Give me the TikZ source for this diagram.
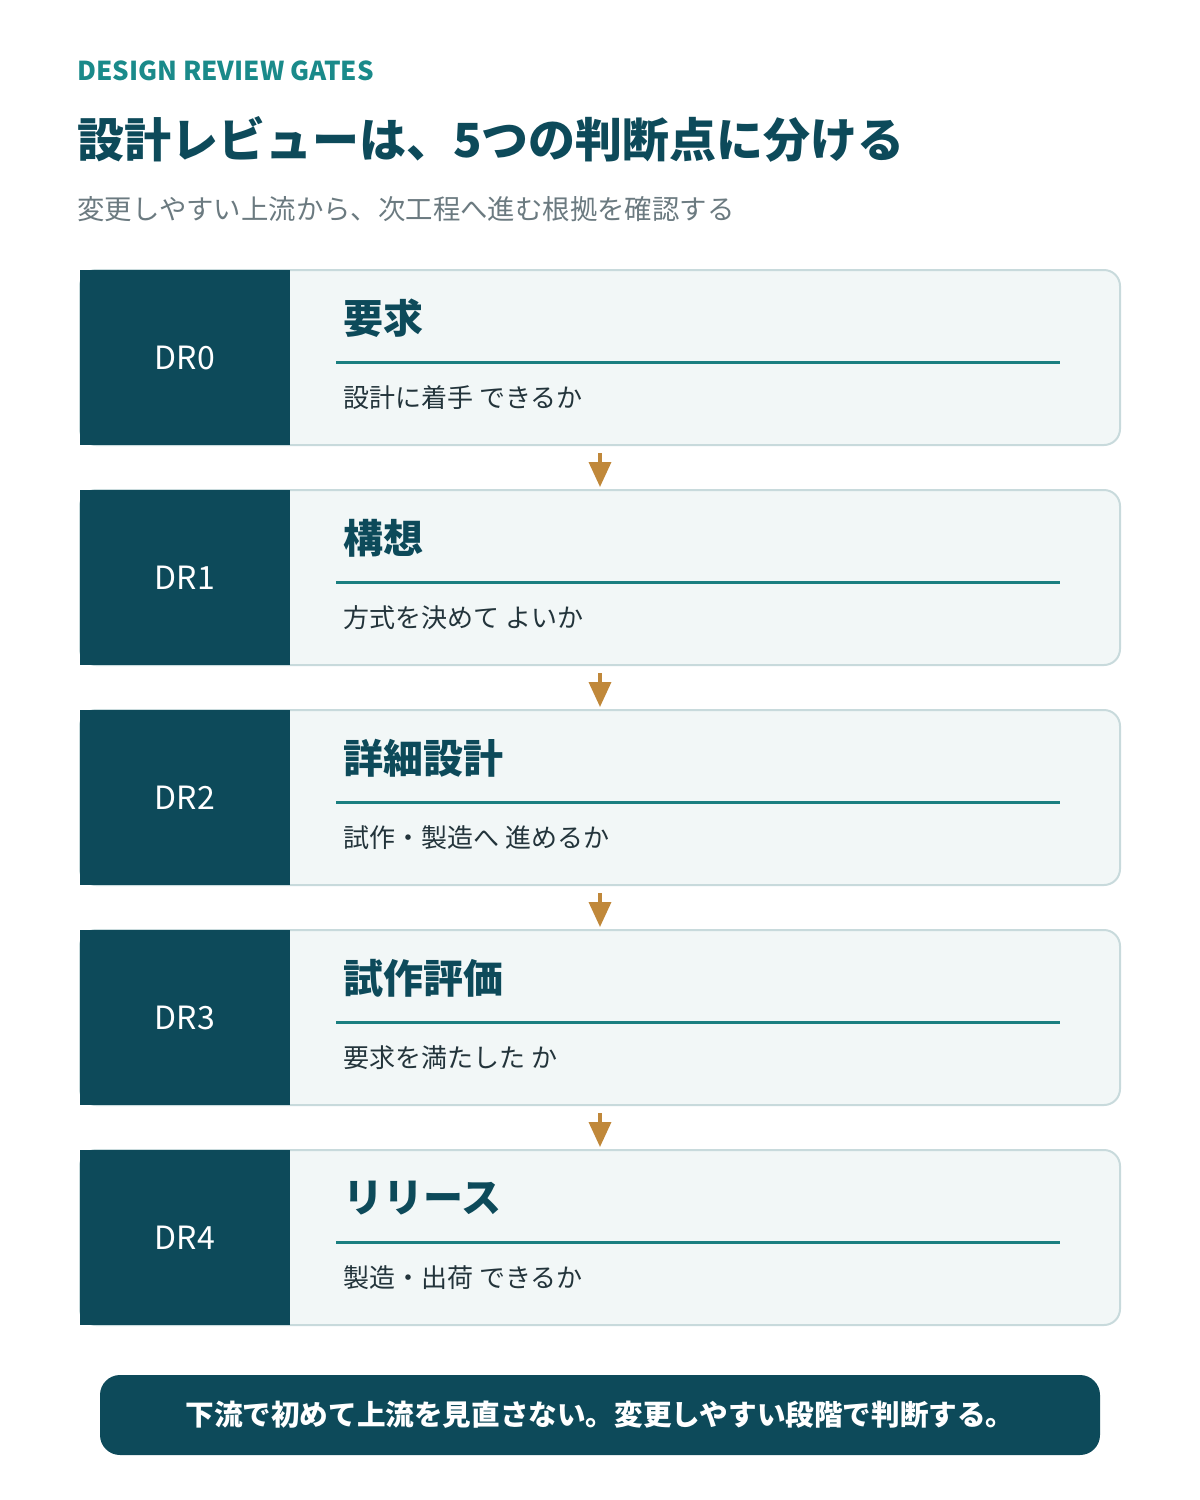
\documentclass[tikz,border=0pt]{standalone}
\usepackage{fontspec}
\setmainfont{Noto Sans CJK JP}
\usetikzlibrary{positioning,arrows.meta}

\definecolor{deepteal}{HTML}{0D4A5A}
\definecolor{ruleteal}{HTML}{1A7F80}
\definecolor{kickerteal}{HTML}{1A8A8A}
\definecolor{subgray}{HTML}{6B7A80}
\definecolor{cardfill}{HTML}{F2F7F7}
\definecolor{cardline}{HTML}{C8DADC}
\definecolor{bodyink}{HTML}{23343B}
\definecolor{arrowgold}{HTML}{C0883A}

\begin{document}
\begin{tikzpicture} [
    x=1pt, y=-1pt,
    node distance = 45pt,
    cardstyle/.style = {draw=cardline,
                        line width=2pt,
                        fill=cardfill,
                        rounded corners=16pt,
                        outer sep=0pt,
                        minimum width=1040pt,
                        minimum height=175pt},
    gatestyle/.style = {fill=deepteal,
                        outer sep=0pt, inner sep=0pt,
                        minimum width=210pt,
                        minimum height=175pt,
                        text=white,
                        font=\fontsize{32}{36}\selectfont},
    headstyle/.style = {anchor=west, inner sep=0pt,
                        text=deepteal,
                        font=\fontsize{40}{44}\selectfont\bfseries},
    substyle/.style  = {anchor=west, inner sep=0pt,
                        text=bodyink,
                        font=\fontsize{26}{30}\selectfont},
    rulestyle/.style = {draw=ruleteal,
                        line width=3pt},
    arr/.style       = {draw=arrowgold,
                        line width=3.5pt,
                        shorten <=8pt, shorten >=3pt,
                        -{Triangle[width=22pt,length=25pt]}}
]
\useasboundingbox (0,0) rectangle (1200,1500);

\node (kicker) [anchor=base west, inner sep=0pt, text=kickerteal,
    font=\fontsize{26}{30}\selectfont\bfseries] at (77,80) {DESIGN REVIEW GATES};
\node (title) [anchor=base west, inner sep=0pt, text=deepteal,
    font=\fontsize{47}{50}\selectfont\bfseries] at (77,157)
    {設計レビューは、5つの判断点に分ける};
\node (subtitle) [anchor=base west, inner sep=0pt, text=subgray,
    font=\fontsize{27.4}{32}\selectfont] at (77,219)
    {変更しやすい上流から、次工程へ進む根拠を確認する};

\node (card0) [cardstyle, anchor=north west] at (80,270) {};
\node (card1) [cardstyle, below=of card0] {};
\node (card2) [cardstyle, below=of card1] {};
\node (card3) [cardstyle, below=of card2] {};
\node (card4) [cardstyle, below=of card3] {};

\node (gate0) [gatestyle, anchor=north west] at (card0.north west) {DR0};
\node (gate1) [gatestyle, anchor=north west] at (card1.north west) {DR1};
\node (gate2) [gatestyle, anchor=north west] at (card2.north west) {DR2};
\node (gate3) [gatestyle, anchor=north west] at (card3.north west) {DR3};
\node (gate4) [gatestyle, anchor=north west] at (card4.north west) {DR4};

\node (head0) [headstyle, right=263pt of card0.north west, yshift=-48pt] {要求};
\node (sub0)  [substyle, right=263pt of card0.north west, yshift=-128pt] {設計に着手 できるか};
\draw[rulestyle] ([xshift=256pt,yshift=-92pt]card0.north west) -- ++(724,0);

\node (head1) [headstyle, right=263pt of card1.north west, yshift=-48pt] {構想};
\node (sub1)  [substyle, right=263pt of card1.north west, yshift=-128pt] {方式を決めて よいか};
\draw[rulestyle] ([xshift=256pt,yshift=-92pt]card1.north west) -- ++(724,0);

\node (head2) [headstyle, right=263pt of card2.north west, yshift=-48pt] {詳細設計};
\node (sub2)  [substyle, right=263pt of card2.north west, yshift=-128pt] {試作・製造へ 進めるか};
\draw[rulestyle] ([xshift=256pt,yshift=-92pt]card2.north west) -- ++(724,0);

\node (head3) [headstyle, right=263pt of card3.north west, yshift=-48pt] {試作評価};
\node (sub3)  [substyle, right=263pt of card3.north west, yshift=-128pt] {要求を満たした か};
\draw[rulestyle] ([xshift=256pt,yshift=-92pt]card3.north west) -- ++(724,0);

\node (head4) [headstyle, right=263pt of card4.north west, yshift=-48pt] {リリース};
\node (sub4)  [substyle, right=263pt of card4.north west, yshift=-128pt] {製造・出荷 できるか};
\draw[rulestyle] ([xshift=256pt,yshift=-92pt]card4.north west) -- ++(724,0);

\draw[arr] (card0) -- (card1);
\draw[arr] (card1) -- (card2);
\draw[arr] (card2) -- (card3);
\draw[arr] (card3) -- (card4);

\node (banner) [fill=deepteal, rounded corners=20pt,
    minimum width=1000pt, minimum height=80pt, text=white,
    font=\fontsize{28.6}{32}\selectfont\bfseries] at (600,1415)
    {下流で初めて上流を見直さない。変更しやすい段階で判断する。};
\end{tikzpicture}
\end{document}
